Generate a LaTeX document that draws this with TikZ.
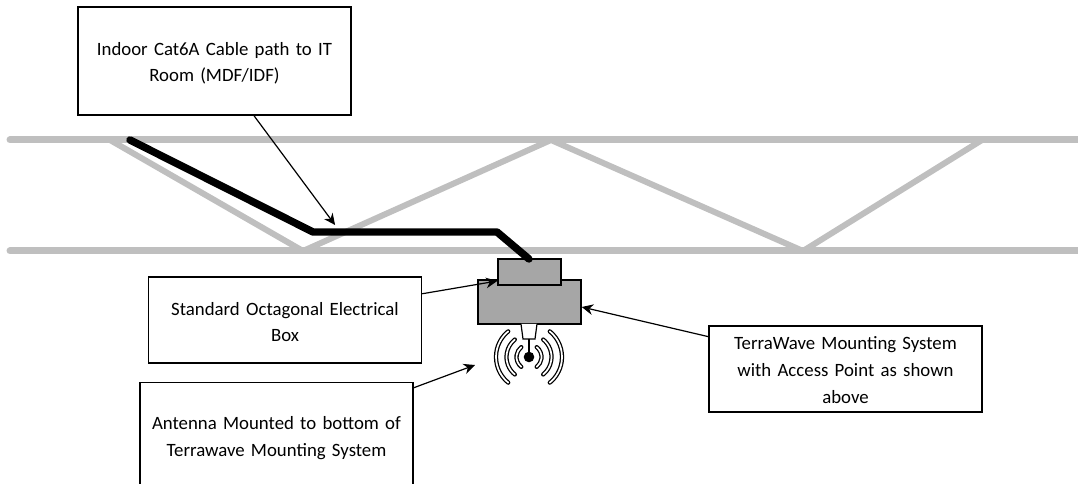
\documentclass[tikz,border=0pt]{standalone}
\usepackage{fontspec}
\setmainfont{Carlito}
\usetikzlibrary{arrows.meta,calc}
\newcommand{\toppad}[1]{\rule{0pt}{#1}}
\tikzset{
  x=0.75pt,y=-0.75pt,
  truss/.style={draw=black!25,line width=5.25pt,line cap=round},
  web/.style={draw=black!25,line width=4.5pt},
  notebox/.style={draw=black,line width=1.1pt,fill=white,align=center,font=\fontsize{14.1pt}{20pt}\selectfont,inner sep=0pt,text width=204.75pt,minimum width=204.75pt},
  pointer/.style={draw=black,line width=0.9pt,-{Stealth[length=8.5pt,width=8pt]}},
  grey box/.style={draw=black,line width=1.1pt,fill=black!35,inner sep=0pt},
  cable/.style={draw=black,line width=5.6pt,line cap=round,line join=round},
  wave/.style={draw=black,line width=0.95pt,double=white,double distance=1.3pt,line cap=round}
}
\begin{document}
\begin{tikzpicture}
\useasboundingbox (0,0) rectangle (1078,484);
\clip (0,0) rectangle (1078,484);
\coordinate (t0) at (10,140); \coordinate (t1) at (1082,140);
\coordinate (b0) at (10,251); \coordinate (b1) at (1082,251);
\coordinate (w0) at (110,140); \coordinate (w1) at (303,251);
\coordinate (w2) at (551,140); \coordinate (w3) at (803,251);
\coordinate (w4) at (982,140);
\draw[truss] (t0) -- (t1);
\draw[truss] (b0) -- (b1);
\draw[web,line join=bevel] (w0) -- (w1) -- (w2) -- (w3) -- (w4);
\node[grey box,minimum width=77.25pt,minimum height=33pt] (lowerbox) at (529.5,302) {};
\node[grey box,minimum width=47.25pt,minimum height=19.5pt] (upperbox) at (529.5,272) {};
\coordinate (c0) at (130,140); \coordinate (c1) at (313,232);
\coordinate (c2) at (497,232); \coordinate (c3) at (529,259);
\draw[cable] (c0) -- (c1) -- (c2) -- (c3);
\draw[line width=0.9pt,fill=white] (521,324) -- (523,339) -- (535,339) -- (537,324);
\draw[line width=1.9pt] (529,339) -- (529,357);
\fill[black] (529,357) circle (5.3);
\foreach \r/\a in {12.5/52,22.5/51,33/51}{
  \draw[wave] (529,357) ++(180-\a:\r) arc (180-\a:180+\a:\r);
  \draw[wave] (529,357) ++(-\a:\r) arc (-\a:\a:\r);
}
\node[notebox,minimum height=81pt] (cablebox) at (214.5,61) {\toppad{13pt}Indoor Cat6A Cable path to IT\\Room (MDF/IDF)};
\node[notebox,minimum height=64.5pt] (octbox) at (285,320) {\toppad{13pt}Standard Octagonal Electrical\\Box};
\node[notebox,minimum height=81pt] (antbox) at (276.5,436.5) {\toppad{12.5pt}Antenna Mounted to bottom of\\Terrawave Mounting System};
\node[notebox,minimum height=64.5pt] (tmsbox) at (845.5,369) {\toppad{11.5pt}TerraWave Mounting System\\with Access Point as shown\\above};
\draw[pointer] ($(cablebox.south)+(39.5,0)$) -- ($(c1)!0.12!(c2)+(0,-7)$);
\draw[pointer] ($(octbox.north east)!0.2!(octbox.south east)$) -- (upperbox.south west |- 0,281);
\draw[pointer] ($(antbox.north east)+(0,6)$) -- (475,365);
\draw[pointer] ($(tmsbox.north west)!0.13!(tmsbox.south west)$) -- (lowerbox.east |- 0,307);
\end{tikzpicture}
\end{document}
